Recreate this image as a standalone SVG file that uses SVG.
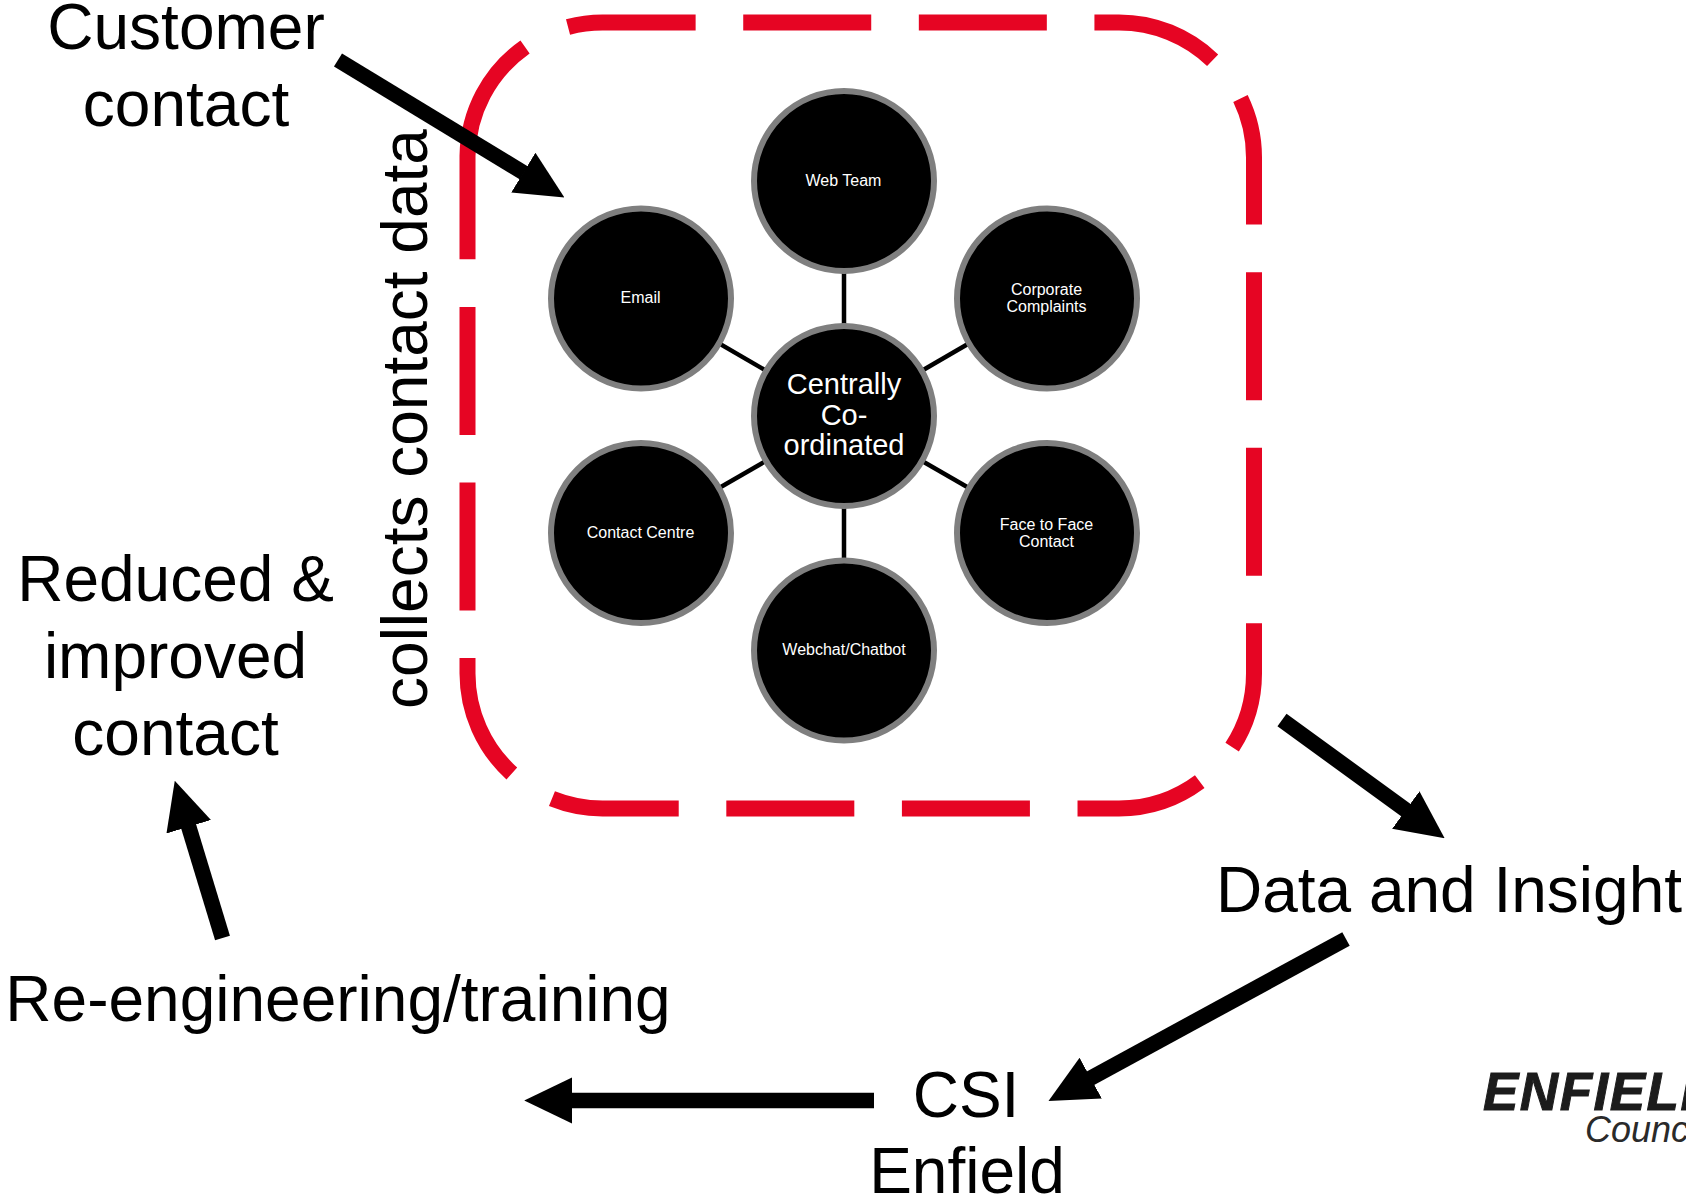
<svg xmlns="http://www.w3.org/2000/svg" width="1686" height="1198" viewBox="0 0 1686 1198">
<style>
text{font-family:"Liberation Sans",Arial,sans-serif;text-anchor:middle}
.big{font-size:64px;fill:#000}
.n{fill:#000;stroke:#7f7f7f;stroke-width:6}
.s{font-size:16px;fill:#fff}
.c{font-size:29px;fill:#fff}
.spoke{stroke:#000;stroke-width:4.5;fill:none}
.arrow{stroke:#000;stroke-width:15.5;fill:none;marker-end:url(#head)}
</style>
<defs><marker id="head" markerUnits="strokeWidth" markerWidth="3.1" markerHeight="3.1" refX="0.05" refY="1.5" orient="auto"><path d="M0 0L3.1 1.5L0 3z" fill="#000"/></marker></defs>
<rect width="1686" height="1198" fill="#fff"/>
<path id="boundary" d="M467.51 156A135 135 0 0 1 602.5 22.5H1119A135 135 0 0 1 1254 157.5V673.5A135 135 0 0 1 1119 808.5H602.5A135 135 0 0 1 467.5 673.5Z" fill="none" stroke="#e60523" stroke-width="16" stroke-dasharray="128 47.6"/>
<g id="connectors">
<line class="spoke" x1="844" y1="416" x2="844" y2="181"/>
<line class="spoke" x1="844" y1="416" x2="844" y2="650"/>
<line class="spoke" x1="844" y1="416" x2="641" y2="298"/>
<line class="spoke" x1="844" y1="416" x2="1047" y2="298"/>
<line class="spoke" x1="844" y1="416" x2="641" y2="533"/>
<line class="spoke" x1="844" y1="416" x2="1047" y2="533"/>
<line class="arrow" x1="338" y1="60" x2="524" y2="173"/>
<line class="arrow" x1="1282" y1="720" x2="1406.4" y2="810.5"/>
<line class="arrow" x1="1346" y1="939" x2="1090" y2="1078.5"/>
<line class="arrow" x1="874" y1="1100.5" x2="571.5" y2="1100.5"/>
<line class="arrow" x1="222.5" y1="938" x2="188.5" y2="826"/>
</g>
<g id="node-web"><circle class="n" cx="844" cy="181" r="90"/><text class="s" x="843.5" y="186">Web Team</text></g>
<g id="node-email"><circle class="n" cx="641" cy="298.5" r="90"/><text class="s" x="640.5" y="303">Email</text></g>
<g id="node-complaints"><circle class="n" cx="1047" cy="298.5" r="90"/><text class="s" x="1046.5" y="295">Corporate</text><text class="s" x="1046.5" y="312">Complaints</text></g>
<g id="node-contact-centre"><circle class="n" cx="641" cy="533" r="90"/><text class="s" x="640.5" y="538">Contact Centre</text></g>
<g id="node-face"><circle class="n" cx="1047" cy="533" r="90"/><text class="s" x="1046.5" y="530">Face to Face</text><text class="s" x="1046.5" y="546.5">Contact</text></g>
<g id="node-webchat"><circle class="n" cx="844" cy="650.5" r="90"/><text class="s" x="844" y="655">Webchat/Chatbot</text></g>
<g id="node-centre"><circle class="n" cx="844" cy="416" r="90"/><text class="c" x="844" y="394">Centrally</text><text class="c" x="844" y="425">Co-</text><text class="c" x="844" y="455">ordinated</text></g>
<g id="label-customer"><text class="big" x="186" y="49">Customer</text><text class="big" x="186" y="126">contact</text></g>
<g id="label-collects"><text class="big" transform="translate(427 419) rotate(-90)">collects contact data</text></g>
<g id="label-reduced"><text class="big" x="175.5" y="601">Reduced &amp;</text><text class="big" x="175.5" y="678">improved</text><text class="big" x="175.5" y="755">contact</text></g>
<g id="label-data"><text class="big" x="1449" y="912">Data and Insight</text></g>
<g id="label-reeng"><text class="big" x="338" y="1021">Re-engineering/training</text></g>
<g id="label-csi"><text class="big" x="966" y="1117">CSI</text><text class="big" x="967" y="1193">Enfield</text></g>
<g id="logo"><text x="1483" y="1110" font-size="53" font-weight="700" font-style="italic" fill="#1c1c1c" stroke="#1c1c1c" stroke-width="1" letter-spacing="1.5" style="text-anchor:start">ENFIELD</text><text x="1585" y="1142" font-size="36" font-style="italic" fill="#2a2a2a" style="text-anchor:start">Council</text></g>
</svg>
